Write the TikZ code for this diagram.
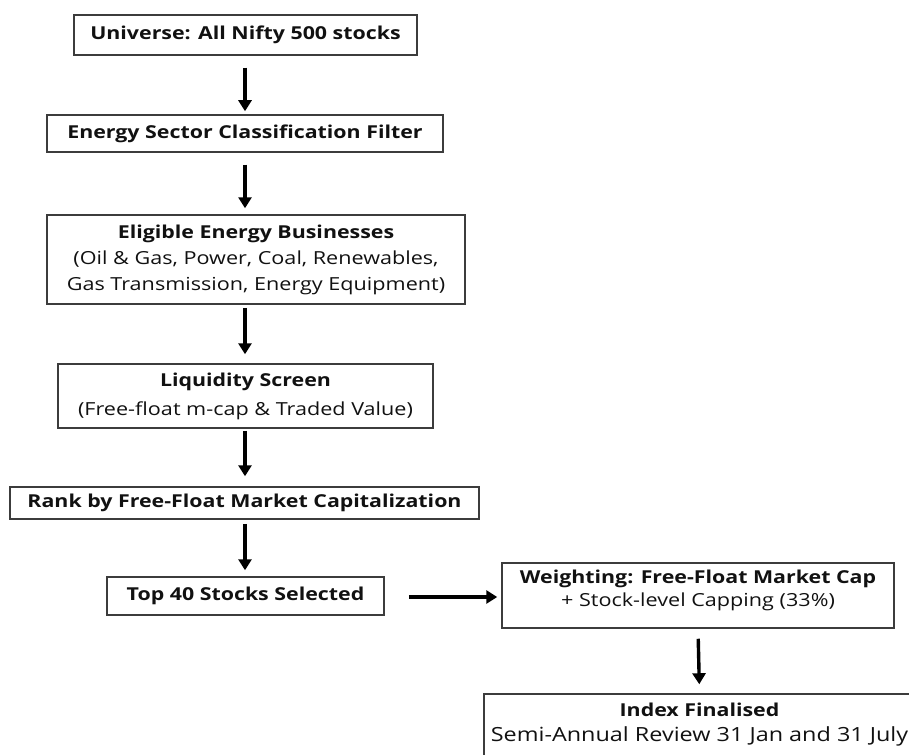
\documentclass[tikz,border=0pt]{standalone}
\usepackage{fontspec}
\setmainfont{Open Sans}[FakeStretch=1.2]
\usetikzlibrary{arrows.meta,calc}
\definecolor{boxgray}{HTML}{3C3C3C}
\definecolor{txt}{HTML}{111111}
\newcommand\hd[1]{{\fontsize{17.8}{26}\selectfont\bfseries #1}}
\begin{document}
\begin{tikzpicture}[x=1pt,y=-1pt,
 box/.style={draw=boxgray, line width=1.5pt, inner sep=0pt, align=center,
   font=\fontsize{18}{26}\selectfont, text=txt},
 arr/.style={line width=3.4pt, -{Triangle[length=11pt,width=13pt]}},
]
\useasboundingbox (0,0) rectangle (909,754);
\clip (0,0) rectangle (909,754);
\coordinate (ax) at (245,0);
\coordinate (ay) at (0,597);
\node[box, minimum width=343pt, minimum height=40pt] (b1) at (245.5,35)
  {\hd{Universe: All Nifty 500 stocks}};
\node[box, minimum width=396pt, minimum height=37pt] (b2) at (245,133.5)
  {\hd{Energy Sector Classification Filter}};
\node[box, minimum width=418pt, minimum height=89pt] (b3) at (256,259.5)
  {\hd{Eligible Energy Businesses}\\(Oil \& Gas, Power, Coal, Renewables,\\Gas Transmission, Energy Equipment)};
\node[box, minimum width=375pt, minimum height=64pt] (b4) at (245.5,396)
  {\hd{Liquidity Screen}\\[3pt](Free-float m-cap \& Traded Value)};
\node[box, minimum width=469pt, minimum height=32pt] (b5) at (244.5,503)
  {\hd{Rank by Free-Float Market Capitalization}};
\node[box, minimum width=277pt, minimum height=38pt] (b6) at (245.5,596)
  {\hd{Top 40 Stocks Selected}};
\node[box, minimum width=392pt, minimum height=65pt] (b7) at (698,595.5)
  {\hd{Weighting: Free-Float Market Cap}\\[-3pt]+ Stock-level Capping (33\%)\rule[-14pt]{0pt}{0pt}};
\node[box, minimum width=431pt, minimum height=62pt, font=\fontsize{19.5}{26}\selectfont] (b8) at (699.5,725)
  {\hd{Index Finalised}\\[-1pt]Semi-Annual Review 31 Jan and 31 July};
\draw[arr, shorten <=12pt, shorten >=3pt] (b1.south -| ax) -- (b2.north -| ax);
\draw[arr, shorten <=12pt, shorten >=6pt] (b2.south -| ax) -- (b3.north -| ax);
\draw[arr, shorten <=3pt, shorten >=9pt] (b3.south -| ax) -- (b4.north -| ax);
\draw[arr, shorten <=2pt, shorten >=10pt] (b4.south -| ax) -- (b5.north -| ax);
\draw[arr, shorten <=4pt, shorten >=6pt] (b5.south -| ax) -- (b6.north -| ax);
\draw[arr, shorten <=24pt, shorten >=4pt] (b6.east |- ay) -- (b7.west |- ay);
\draw[arr, shorten <=10pt, shorten >=9pt] (b7.south) -- (b8.north);
\end{tikzpicture}
\end{document}
